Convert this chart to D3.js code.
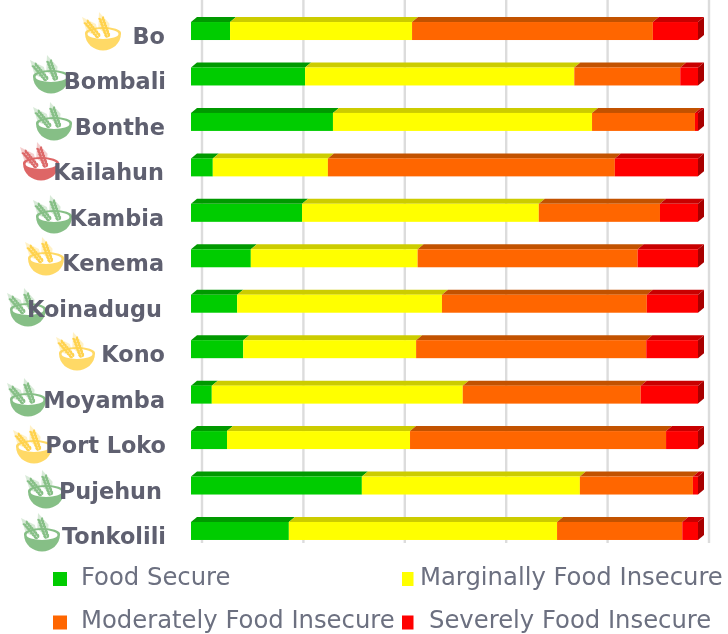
<!DOCTYPE html>
<html>
<head>
<meta charset="utf-8">
<script src="https://cdn.jsdelivr.net/npm/d3@7"></script>
<style>
  html, body { margin: 0; padding: 0; background: #fff; }
  svg { display: block; filter: blur(0.45px); }
</style>
</head>
<body>
<script>
let districts = ['Bo', 'Bombali', 'Bonthe', 'Kailahun', 'Kambia', 'Kenema', 'Koinadugu', 'Kono', 'Moyamba', 'Port Loko', 'Pujehun', 'Tonkolili'];
let foodSecure = [7.7, 22.5, 28.0, 4.3, 21.9, 11.8, 9.1, 10.3, 4.1, 7.1, 33.7, 19.3];
let marginal = [35.9, 53.1, 51.1, 22.7, 46.7, 32.9, 40.4, 34.1, 49.5, 36.1, 43.0, 52.9];
let moderate = [47.5, 20.9, 20.3, 56.6, 23.9, 43.4, 40.4, 45.4, 35.1, 50.5, 22.3, 24.7];
let severe = [8.9, 3.5, 0.6, 16.4, 7.5, 11.9, 10.1, 10.2, 11.3, 6.3, 1.0, 3.1];
let seriesNames = ['Food Secure', 'Marginally Food Insecure', 'Moderately Food Insecure', 'Severely Food Insecure'];
let ratings = ['mid', 'good', 'good', 'bad', 'good', 'mid', 'good', 'mid', 'good', 'mid', 'good', 'good'];
let xTicks = [0, 20, 40, 60, 80, 100];

let width = 728;
let height = 634;
let depthX = 6;
let depthY = 5;

let frontColor = ['#00cc00', '#ffff00', '#ff6600', '#ff0000'];
let topColor = ['#009900', '#cccc00', '#c25200', '#c80000'];
let bowlColor = {good: '#86bf86', mid: '#ffd966', bad: '#de6666'};
let grainColor = {good: '#86bf86', mid: '#ffd24d', bad: '#dc6868'};

// the bowls and labels were placed by hand in the original, so they don't follow the rows
let iconLeft = [85, 33, 36, 23, 36, 28, 10, 59, 10, 16, 28, 24];
let iconTop = [27, 70, 117, 157, 210, 252, 303, 347, 393, 440, 485, 528];
let labelShift = [0, 1, 0, -1, -1, -1, -3, 0, 0, 1, -3, 1];

let svg = d3.select('body').append('svg')
  .attr('width', width)
  .attr('height', height);

let x = d3.scaleLinear().domain([0, 100]).range([191, 698]);
let y = d3.scaleBand().domain(districts).range([8.3, 553.7])
  .paddingInner(0.604).paddingOuter(0.302);

// gridlines sit on the back wall
let grid = svg.append('g')
  .attr('transform', 'translate(' + 10.5 + ',543)')
  .call(d3.axisBottom(x).tickValues(xTicks).tickSize(-543).tickFormat(''));
grid.select('.domain').remove();
grid.selectAll('line').attr('stroke', '#dcdcdc').attr('stroke-width', 2.4);

let series = [foodSecure, marginal, moderate, severe];
let rows = districts.map((d, i) => {
  let sum = 0;
  return {name: d, segs: series.map((s, k) => {
    let seg = {k: k, x0: sum, x1: sum + s[i]};
    sum += s[i];
    return seg;
  })};
});

let bar = svg.append('g').selectAll('g')
  .data(rows)
  .enter().append('g')
  .attr('transform', d => 'translate(0,' + y(d.name) + ')');

bar.selectAll('.top')
  .data(d => d.segs)
  .enter().append('path')
  .attr('fill', d => topColor[d.k])
  .attr('d', d => 'M' + x(d.x0) + ',0L' + (x(d.x0) + depthX) + ',' + (-depthY)
    + 'L' + (x(d.x1) + depthX) + ',' + (-depthY) + 'L' + x(d.x1) + ',0Z');

bar.selectAll('.front')
  .data(d => d.segs)
  .enter().append('rect')
  .attr('x', d => x(d.x0))
  .attr('y', 0)
  .attr('width', d => x(d.x1) - x(d.x0))
  .attr('height', y.bandwidth())
  .attr('fill', d => frontColor[d.k]);

// right hand end of the bar
bar.append('path')
  .attr('fill', '#a80000')
  .attr('d', 'M' + x(100) + ',0L' + (x(100) + depthX) + ',' + (-depthY)
    + 'L' + (x(100) + depthX) + ',' + (y.bandwidth() - depthY) + 'L' + x(100) + ',' + y.bandwidth() + 'Z');

// wheat bowl icon, drawn in a 36 wide box with the rim at y=0
function drawWheat(g, color, x1, y1, x2, y2) {
  let dx = x2 - x1, dy = y2 - y1;
  let len = Math.sqrt(dx * dx + dy * dy);
  let nx = -dy / len, ny = dx / len;
  let ang = Math.atan2(dy, dx) * 180 / Math.PI;
  // pale whiskers round the ear
  g.append('path')
    .attr('d', 'M' + x1 + ',' + y1
      + 'L' + (x1 + dx * 0.45 + nx * 6) + ',' + (y1 + dy * 0.45 + ny * 6)
      + 'L' + x2 + ',' + y2
      + 'L' + (x1 + dx * 0.45 - nx * 6) + ',' + (y1 + dy * 0.45 - ny * 6) + 'Z')
    .attr('fill', color).attr('opacity', 0.32);
  [-1, 1].forEach(side => {
    g.selectAll(null)
      .data(d3.range(0.06, 0.8, 0.11))
      .enter().append('ellipse')
      .attr('rx', 2.2).attr('ry', 1.2)
      .attr('fill', color)
      .attr('transform', t => 'translate(' + (x1 + dx * t + nx * side * 1.5) + ','
        + (y1 + dy * t + ny * side * 1.5) + ') rotate(' + (ang + side * 30) + ')');
  });
}

let icons = svg.append('g').selectAll('g')
  .data(ratings)
  .enter().append('g')
  .attr('transform', (d, i) => 'translate(' + iconLeft[i] + ',' + iconTop[i] + ')');

icons.append('ellipse')
  .attr('cx', 18).attr('cy', 6).attr('rx', 18).attr('ry', 6)
  .attr('fill', d => bowlColor[d]);
icons.append('path')
  .attr('d', 'M0,6C0,17 9,23.5 18,23.5C27,23.5 36,17 36,6Z')
  .attr('fill', d => bowlColor[d]);
icons.append('ellipse')
  .attr('cx', 18).attr('cy', 7).attr('rx', 15.5).attr('ry', 5)
  .attr('fill', '#fff');
icons.each(function(d) {
  let g = d3.select(this);
  drawWheat(g, grainColor[d], 14, 10, -3, -10);
  drawWheat(g, grainColor[d], 23, 10, 14, -15);
});

// category labels, on top of the bowls
let yAxis = svg.append('g')
  .attr('transform', 'translate(165,0)')
  .call(d3.axisLeft(y).tickSize(0).tickPadding(0));
yAxis.select('.domain').remove();
yAxis.selectAll('text')
  .attr('x', (d, i) => labelShift[i])
  .attr('dy', '13px')
  .attr('fill', '#5f6070')
  .attr('font-family', '"DejaVu Sans"')
  .attr('font-weight', 'bold')
  .attr('font-size', '22.4px');

// legend
let legendX = [53, 402, 53, 402];
let legendW = [14, 11.5, 14, 11.5];
let legendTextX = [81, 420, 81, 429];
let legendY = [572, 572, 615.5, 615.5];

let legend = svg.append('g').selectAll('g')
  .data(seriesNames)
  .enter().append('g');

legend.append('rect')
  .attr('x', (d, i) => legendX[i])
  .attr('y', (d, i) => legendY[i])
  .attr('width', (d, i) => legendW[i])
  .attr('height', 14)
  .attr('fill', (d, i) => frontColor[i]);

legend.append('text')
  .attr('x', (d, i) => legendTextX[i])
  .attr('y', (d, i) => legendY[i] + 12.5)
  .attr('fill', '#6c7080')
  .attr('font-family', '"DejaVu Sans"')
  .attr('font-size', '24.3px')
  .text(d => d);
</script>
</body>
</html>
